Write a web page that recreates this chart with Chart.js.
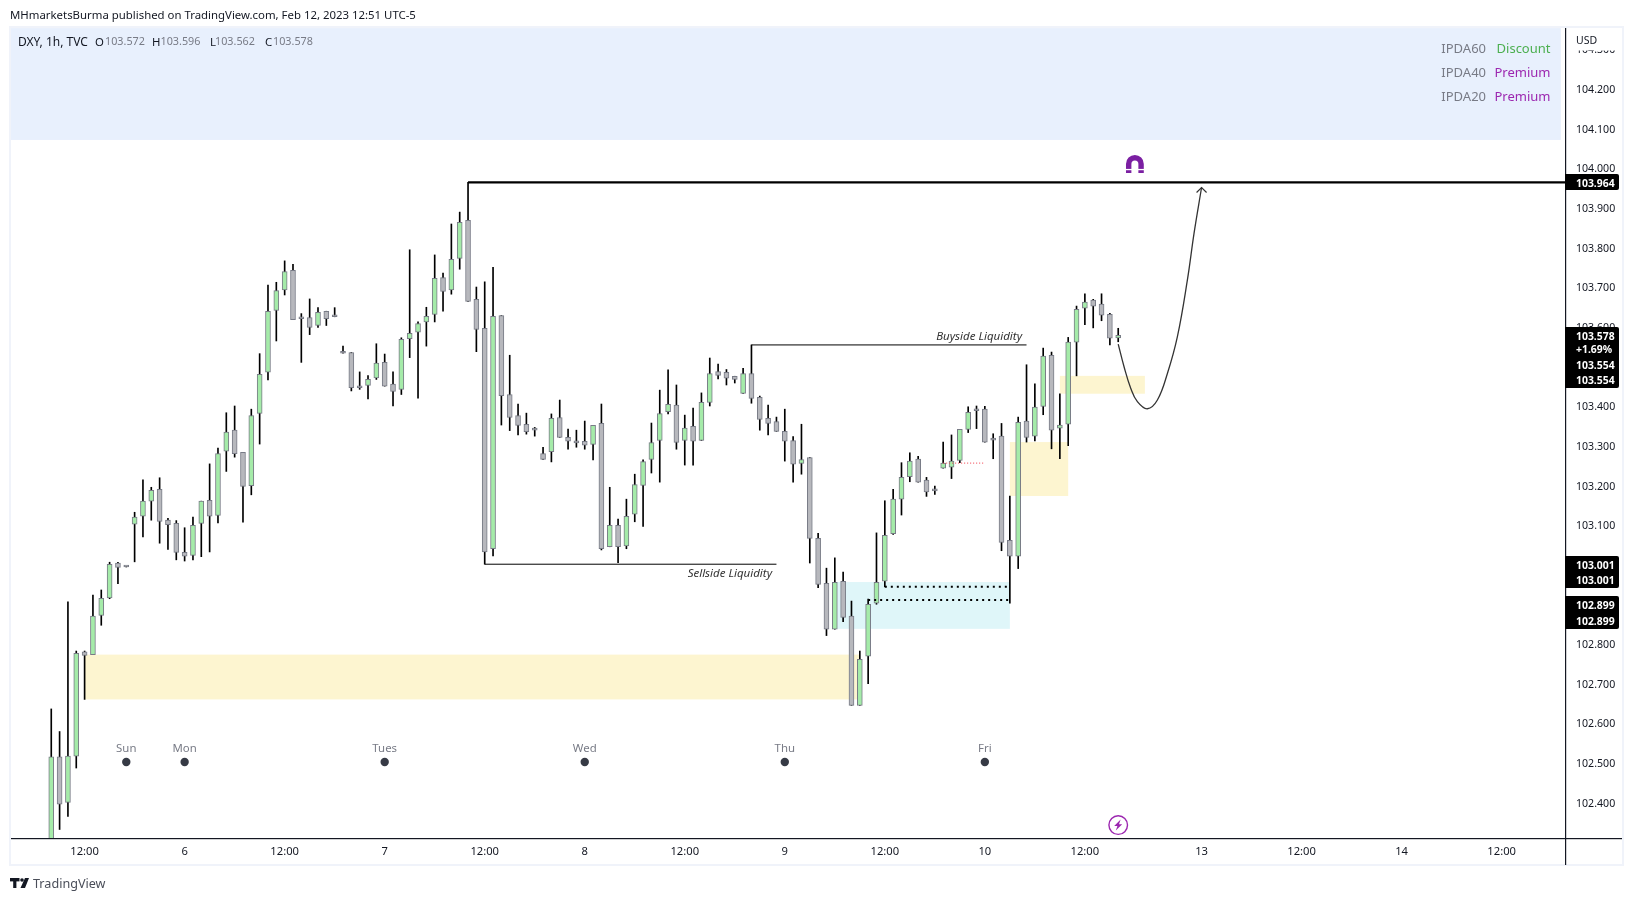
<!DOCTYPE html>
<html>
<head>
<meta charset="utf-8">
<title>DXY, 1h, TVC</title>
<script src="https://cdn.jsdelivr.net/npm/chart.js@4"></script>
<style>
  html, body { margin: 0; padding: 0; background: #fff; }
  canvas { display: block; }
</style>
</head>
<body>
<canvas id="dxyChart" width="1633" height="901"></canvas>
<script>
// hourly candles, index 0 = Feb 5 08:00
const opens = [
  102.28,102.515,102.400,102.517,102.780,102.773,102.872,102.916,103.004,102.996,
  103.102,103.122,103.160,103.190,103.112,103.104,103.031,103.023,103.104,103.162,
  103.124,103.286,103.339,103.283,103.199,103.381,103.485,103.641,103.693,103.742,
  103.622,103.623,103.603,103.639,103.626,103.535,103.535,103.450,103.452,103.471,
  103.510,103.455,103.442,103.570,103.586,103.612,103.631,103.724,103.693,103.772,
  103.868,103.669,103.596,103.040,103.628,103.429,103.376,103.354,103.341,103.280,
  103.285,103.371,103.321,103.311,103.311,103.303,103.356,103.045,103.099,103.047,
  103.127,103.200,103.265,103.313,103.386,103.402,103.313,103.349,103.313,103.409,
  103.487,103.485,103.475,103.432,103.482,103.422,103.369,103.361,103.336,103.313,
  103.255,103.270,103.066,102.953,102.837,102.958,102.870,102.645,102.769,102.903,
  102.958,103.078,103.165,103.222,103.266,103.213,103.188,103.243,103.246,103.263,
  103.341,103.390,103.392,103.319,103.324,103.061,103.021,103.362,103.324,103.399,
  103.528,103.344,103.354,103.561,103.647,103.667,103.657,103.631,103.572
];
const highs = [
  102.636,102.579,102.906,102.782,102.782,102.923,102.936,103.006,103.006,102.996,
  103.132,103.214,103.195,103.219,103.117,103.111,103.093,103.120,103.160,103.254,
  103.294,103.383,103.400,103.283,103.392,103.532,103.705,103.712,103.766,103.757,
  103.633,103.670,103.648,103.639,103.648,103.551,103.535,103.486,103.477,103.557,
  103.531,103.486,103.572,103.794,103.612,103.649,103.781,103.735,103.859,103.889,
  103.964,103.700,103.713,103.750,103.628,103.528,103.405,103.382,103.346,103.296,
  103.380,103.415,103.342,103.339,103.362,103.351,103.405,103.195,103.115,103.165,
  103.228,103.264,103.357,103.440,103.491,103.453,103.377,103.395,103.433,103.521,
  103.506,103.492,103.475,103.495,103.554,103.425,103.402,103.372,103.392,103.323,
  103.354,103.270,103.079,102.991,103.017,102.981,102.908,102.782,102.913,103.080,
  103.161,103.190,103.257,103.282,103.273,103.220,103.198,103.309,103.327,103.341,
  103.398,103.400,103.399,103.330,103.356,103.173,103.372,103.504,103.456,103.546,
  103.536,103.431,103.573,103.652,103.683,103.669,103.683,103.634,103.596
];
const lows = [
  102.25,102.332,102.365,102.487,102.660,102.773,102.847,102.914,102.952,102.994,
  103.007,103.070,103.112,103.054,103.038,103.012,103.009,103.012,103.020,103.032,
  103.105,103.235,103.271,103.107,103.176,103.304,103.466,103.564,103.680,103.618,
  103.510,103.580,103.598,103.603,103.625,103.533,103.438,103.442,103.418,103.467,
  103.450,103.400,103.429,103.522,103.420,103.551,103.612,103.639,103.682,103.745,
  103.664,103.537,103.001,103.022,103.352,103.338,103.327,103.329,103.324,103.265,
  103.259,103.321,103.291,103.296,103.291,103.264,103.037,103.045,103.005,103.040,
  103.108,103.096,103.231,103.208,103.380,103.291,103.251,103.251,103.313,103.400,
  103.468,103.453,103.458,103.432,103.407,103.339,103.327,103.336,103.261,103.208,
  103.228,103.004,102.942,102.821,102.837,102.856,102.645,102.645,102.700,102.900,
  102.944,103.076,103.125,103.209,103.208,103.172,103.177,103.243,103.217,103.257,
  103.333,103.343,103.309,103.267,103.035,102.903,102.990,103.309,103.312,103.378,
  103.292,103.267,103.300,103.476,103.605,103.597,103.615,103.554,103.562
];
const closes = [
  102.515,102.396,102.517,102.776,102.771,102.870,102.915,103.001,102.993,102.994,
  103.120,103.160,103.187,103.109,103.101,103.031,103.021,103.099,103.160,103.122,
  103.280,103.334,103.280,103.197,103.376,103.480,103.639,103.691,103.739,103.618,
  103.620,103.598,103.636,103.620,103.625,103.533,103.446,103.446,103.467,103.508,
  103.450,103.437,103.568,103.583,103.608,103.626,103.722,103.689,103.770,103.863,
  103.664,103.593,103.032,103.626,103.426,103.371,103.351,103.335,103.339,103.265,
  103.369,103.321,103.311,103.307,103.301,103.351,103.040,103.099,103.045,103.122,
  103.202,103.260,103.308,103.381,103.404,103.308,103.344,103.311,103.409,103.482,
  103.477,103.470,103.467,103.482,103.419,103.366,103.356,103.336,103.311,103.253,
  103.265,103.066,102.950,102.837,102.955,102.867,102.645,102.761,102.900,102.955,
  103.074,103.165,103.220,103.261,103.208,103.183,103.186,103.256,103.261,103.341,
  103.384,103.388,103.309,103.314,103.056,103.021,103.359,103.321,103.397,103.526,
  103.339,103.352,103.561,103.644,103.662,103.652,103.629,103.571,103.578
];

// axis ticks
const xTickIndex = [4,16,28,40,52,64,76,88,100,112,124,138,150,162,174];
const xTickLabels = ['12:00','6','12:00','7','12:00','8','12:00','9','12:00','10','12:00','13','12:00','14','12:00'];
const yTicks = [102.4,102.5,102.6,102.7,102.8,102.9,103.0,103.1,103.2,103.3,103.4,103.5,103.6,103.7,103.8,103.9,104.0,104.1,104.2,104.3];

// drawn levels: [start index, end index, price]
const sellsideLevel = [52, 87, 103.001];
const buysideLevel = [84, 117, 103.554];
const topLevel = [50, 181.6, 103.964];
const dotLevels = [[100, 115, 102.944], [98, 115, 102.911]];
const redLevel = [107, 112, 103.256];

// zones: [start index, end index, top, bottom]
const panelZone = [-4.83, 181.1, 104.353, 104.071];
const yellowZones = [[4, 97, 102.773, 102.660], [115, 122, 103.309, 103.173], [121, 131.2, 103.476, 103.431]];
const blueZones = [[94, 115, 102.956, 102.838]];

// projected path
const pathIndex = [128.0,128.7,129.5,130.3,131.5,132.7,133.9,135.1,136.3,137.1,138.0];
const pathPrice = [103.556,103.499,103.445,103.411,103.393,103.415,103.482,103.575,103.718,103.836,103.951];

// weekday markers
const dayIndex = [9,16,40,64,88,112];
const dayNames = ['Sun','Mon','Tues','Wed','Thu','Fri'];
const dayPrice = 102.502;

const magnetPos = [130, 104.008];
const boltPos = [128, 102.343];

const FONT = '"Noto Sans", sans-serif';
const UP = '#a5eba9', DOWN = '#b7b8bd', EDGE = '#787b86';

const candleIndex = opens.map((_, i) => i);
const lineOf = l => [{ x: l[0], y: l[2] }, { x: l[1], y: l[2] }];

function text(ctx, str, x, y, color, font, align) {
  ctx.fillStyle = color;
  ctx.font = font;
  ctx.textAlign = align || 'left';
  ctx.textBaseline = 'middle';
  ctx.fillText(str, x, y + 0.8);
}

const backdrop = {
  id: 'backdrop',
  beforeDraw(chart) {
    const c = chart.ctx;
    c.save();
    c.fillStyle = '#ffffff';
    c.fillRect(0, 0, 1633, 901);
    c.fillStyle = '#f0f3fa';
    c.fillRect(9, 26, 1615, 840);
    c.fillStyle = '#ffffff';
    c.fillRect(11, 28, 1611, 836);
    c.restore();
  },
  beforeDatasetsDraw(chart) {
    const c = chart.ctx, X = chart.scales.x, Y = chart.scales.y;
    const fill = (z, color) => {
      c.fillStyle = color;
      c.fillRect(X.getPixelForValue(z[0]), Y.getPixelForValue(z[2]),
        X.getPixelForValue(z[1]) - X.getPixelForValue(z[0]),
        Y.getPixelForValue(z[3]) - Y.getPixelForValue(z[2]));
    };
    c.save();
    fill(panelZone, '#e8f0fd');
    yellowZones.forEach(z => fill(z, '#fdf5d0'));
    blueZones.forEach(z => fill(z, '#dff6f9'));
    c.restore();
  }
};

const overlay = {
  id: 'overlay',
  afterDraw(chart) {
    const c = chart.ctx, X = chart.scales.x, Y = chart.scales.y;
    c.save();

    // header texts
    text(c, 'MHmarketsBurma published on TradingView.com, Feb 12, 2023 12:51 UTC-5', 10, 14.5, '#131722', '11.4px ' + FONT);
    text(c, 'DXY, 1h, TVC', 18, 41.5, '#131722', '12px ' + FONT);
    [['O', 95, '103.572', 105], ['H', 152, '103.596', 160.5], ['L', 210, '103.562', 215], ['C', 265, '103.578', 273]].forEach(r => {
      text(c, r[0], r[1], 41.5, '#131722', '11.4px ' + FONT);
      text(c, r[2], r[3], 41.5, '#787b86', '10.8px ' + FONT);
    });

    // IPDA table
    [['IPDA60', 'Discount', '#4caf50', 48], ['IPDA40', 'Premium', '#9c27b0', 72], ['IPDA20', 'Premium', '#9c27b0', 96]].forEach(r => {
      text(c, r[0], 1486, r[3], '#787b86', '13px ' + FONT, 'right');
      text(c, r[1], 1550.5, r[3], r[2], '13px ' + FONT, 'right');
    });

    // liquidity captions
    text(c, 'Sellside Liquidity', 772, 573, '#333333', 'italic 11.5px ' + FONT, 'right');
    text(c, 'Buyside Liquidity', 1022, 336, '#333333', 'italic 11.5px ' + FONT, 'right');

    // weekday captions
    dayIndex.forEach((d, i) => {
      text(c, dayNames[i], X.getPixelForValue(d), Y.getPixelForValue(dayPrice) - 14.5, '#787b86', '11.4px ' + FONT, 'center');
    });

    // arrow head on the projected path
    const ax = X.getPixelForValue(pathIndex[pathIndex.length - 1]);
    const ay = Y.getPixelForValue(pathPrice[pathPrice.length - 1]);
    c.strokeStyle = '#333333';
    c.lineWidth = 1.2;
    c.beginPath();
    c.moveTo(ax - 5, ay + 5);
    c.lineTo(ax, ay);
    c.lineTo(ax + 5, ay + 5);
    c.stroke();

    // magnet icon
    const mx = X.getPixelForValue(magnetPos[0]), my = Y.getPixelForValue(magnetPos[1]);
    c.strokeStyle = '#7b1fa2';
    c.lineWidth = 5.4;
    c.beginPath();
    c.arc(mx, my - 1, 6.2, Math.PI, 0);
    c.lineTo(mx + 6.2, my + 8);
    c.moveTo(mx - 6.2, my - 1);
    c.lineTo(mx - 6.2, my + 8);
    c.stroke();
    c.fillStyle = '#ffffff';
    c.fillRect(mx - 10, my + 4, 20, 1.3);

    // lightning icon
    const bx = X.getPixelForValue(boltPos[0]), by = Y.getPixelForValue(boltPos[1]);
    c.strokeStyle = '#9c27b0';
    c.lineWidth = 1.4;
    c.beginPath();
    c.arc(bx, by, 9.3, 0, Math.PI * 2);
    c.stroke();
    c.fillStyle = '#9c27b0';
    c.beginPath();
    c.moveTo(bx + 2.4, by - 5.5);
    c.lineTo(bx - 4, by + 0.8);
    c.lineTo(bx - 0.8, by + 0.8);
    c.lineTo(bx - 2.4, by + 5.5);
    c.lineTo(bx + 4, by - 0.8);
    c.lineTo(bx + 0.8, by - 0.8);
    c.closePath();
    c.fill();

    // price axis: currency box, and the axis lines run out to the frame
    c.fillStyle = '#ffffff';
    c.fillRect(1566, 28, 54, 22.5);
    text(c, 'USD', 1576, 40.5, '#131722', '10.5px ' + FONT);
    c.fillStyle = '#131722';
    c.fillRect(1565, 28, 1.2, 837);
    c.fillRect(11, 838, 1611, 1.2);

    // black price tags
    const tag = (top, bottom, rows) => {
      c.fillStyle = '#000000';
      c.beginPath();
      c.roundRect(1565, top, 54, bottom - top, [0, 2, 2, 0]);
      c.fill();
      rows.forEach(r => text(c, r[0], 1576, r[1], '#ffffff', 'bold 10.4px ' + FONT));
    };
    tag(174, 190, [['103.964', 183.5]]);
    tag(327, 388, [['103.578', 336], ['+1.69%', 349.5], ['103.554', 365.5], ['103.554', 380.5]]);
    tag(556, 588, [['103.001', 565], ['103.001', 580.5]]);
    tag(596, 629, [['102.899', 605], ['102.899', 621]]);

    // TradingView mark
    c.fillStyle = '#131722';
    c.fillRect(10, 878, 9.5, 3.4);
    c.fillRect(13.2, 878, 3.2, 10);
    c.beginPath();
    c.arc(22, 880, 1.8, 0, Math.PI * 2);
    c.fill();
    c.beginPath();
    c.moveTo(25, 878);
    c.lineTo(29, 878);
    c.lineTo(25, 888);
    c.lineTo(20.5, 888);
    c.closePath();
    c.fill();
    text(c, 'TradingView', 33, 883.5, '#4a4e59', '12.6px ' + FONT);
    c.restore();
  }
};

new Chart(document.getElementById('dxyChart').getContext('2d'), {
  type: 'bar',
  plugins: [backdrop, overlay],
  data: {
    datasets: [
      // wicks
      {
        data: candleIndex.map(i => ({ x: i, y: [lows[i], highs[i]] })),
        backgroundColor: '#000000',
        barThickness: 1,
        grouped: false,
        order: 3
      },
      // bodies
      {
        data: candleIndex.map(i => ({ x: i, y: [opens[i], closes[i]] })),
        backgroundColor: candleIndex.map(i => closes[i] > opens[i] ? UP : DOWN),
        borderColor: EDGE,
        borderWidth: 1,
        borderSkipped: false,
        barThickness: 5,
        minBarLength: 2,
        grouped: false,
        order: 2
      },
      { type: 'line', data: lineOf(topLevel), borderColor: '#000000', borderWidth: 2.2, pointRadius: 0, order: 1 },
      { type: 'line', data: lineOf(sellsideLevel), borderColor: '#000000', borderWidth: 1, pointRadius: 0, order: 1 },
      { type: 'line', data: lineOf(buysideLevel), borderColor: '#000000', borderWidth: 1, pointRadius: 0, order: 1 },
      { type: 'line', data: lineOf(dotLevels[0]), borderColor: '#000000', borderWidth: 2, borderDash: [2, 4], pointRadius: 0, order: 1 },
      { type: 'line', data: lineOf(dotLevels[1]), borderColor: '#000000', borderWidth: 2, borderDash: [2, 4], pointRadius: 0, order: 1 },
      { type: 'line', data: lineOf(redLevel), borderColor: '#f23645', borderWidth: 1, borderDash: [1, 2], pointRadius: 0, order: 1 },
      // projected path
      {
        type: 'line',
        data: pathIndex.map((x, i) => ({ x: x, y: pathPrice[i] })),
        borderColor: '#333333',
        borderWidth: 1.3,
        tension: 0.4,
        pointRadius: 0,
        order: 1
      },
      // weekday dots
      {
        type: 'line',
        data: dayIndex.map(x => ({ x: x, y: dayPrice })),
        showLine: false,
        pointRadius: 4.2,
        pointBackgroundColor: '#363a45',
        pointBorderWidth: 0,
        order: 1
      }
    ]
  },
  options: {
    responsive: false,
    animation: false,
    devicePixelRatio: 1,
    layout: { padding: { left: 11, top: 28, right: 13, bottom: 36 } },
    plugins: { legend: { display: false }, tooltip: { enabled: false }, title: { display: false } },
    font: { family: FONT },
    scales: {
      x: {
        type: 'linear',
        offset: false,
        min: -4.83,
        max: 181.6,
        grid: { display: false, drawTicks: false },
        border: { display: false },
        afterBuildTicks: s => { s.ticks = xTickIndex.map(v => ({ value: v })); },
        afterFit: s => { s.height = 27; },
        ticks: {
          autoSkip: false,
          maxRotation: 0,
          padding: 7,
          color: '#131722',
          font: { family: FONT, size: 11.2 },
          callback: v => xTickLabels[xTickIndex.indexOf(v)]
        }
      },
      y: {
        position: 'right',
        min: 102.3105,
        max: 104.3533,
        grid: { display: false, drawTicks: false },
        border: { display: false },
        afterBuildTicks: s => { s.ticks = yTicks.map(v => ({ value: v })); },
        afterFit: s => { s.width = 55; },
        ticks: {
          padding: 11,
          labelOffset: 1.2,
          color: '#131722',
          font: { family: FONT, size: 10.6 },
          callback: v => v.toFixed(3)
        }
      }
    }
  }
});
</script>
</body>
</html>
